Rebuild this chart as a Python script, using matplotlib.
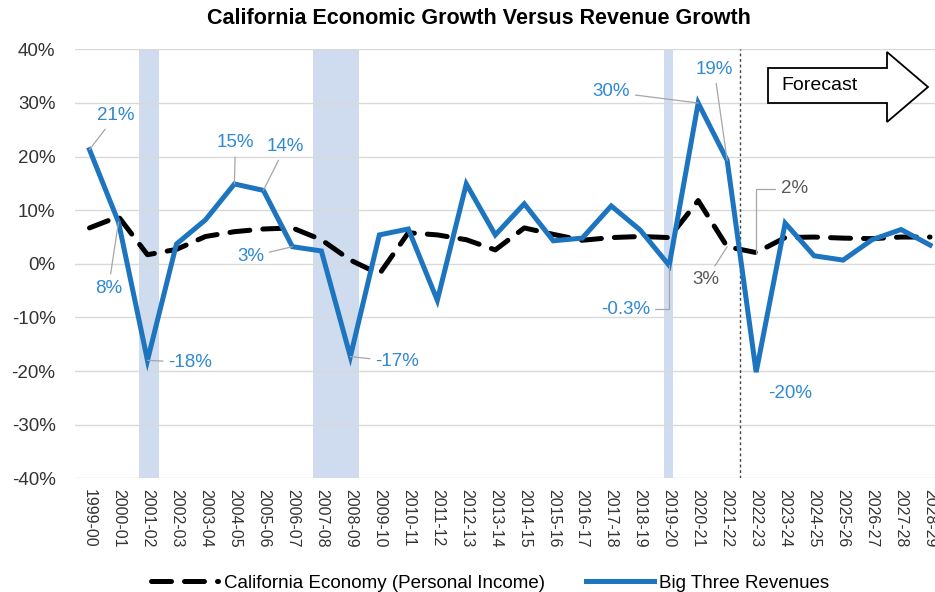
import matplotlib.pyplot as plt
import matplotlib.patches as mpatches
from matplotlib.lines import Line2D

plt.rcParams['font.family'] = ['Liberation Sans', 'DejaVu Sans']

# fiscal years
years = ["1999-00", "2000-01", "2001-02", "2002-03", "2003-04", "2004-05",
         "2005-06", "2006-07", "2007-08", "2008-09", "2009-10", "2010-11",
         "2011-12", "2012-13", "2013-14", "2014-15", "2015-16", "2016-17",
         "2017-18", "2018-19", "2019-20", "2020-21", "2021-22", "2022-23",
         "2023-24", "2024-25", "2025-26", "2026-27", "2027-28", "2028-29"]

# personal income growth (%)
income = [6.7, 8.8, 1.7, 2.7, 5.1, 6.0, 6.5, 6.7, 4.5, 0.7,
          -1.9, 5.8, 5.4, 4.5, 2.6, 6.7, 5.5, 4.4, 4.9, 5.1,
          4.9, 11.8, 3.2, 2.1, 4.9, 5.0, 4.8, 4.7, 5.0, 5.0]

# big three revenues growth (%)
revenue = [21.3, 7.8, -18.0, 3.7, 8.2, 14.9, 13.7, 3.2, 2.4, -17.3,
           5.4, 6.5, -6.8, 14.9, 5.4, 11.2, 4.3, 4.8, 10.8, 6.3,
           -0.3, 30.0, 19.3, -20.2, 7.6, 1.5, 0.7, 4.5, 6.4, 3.5]

# recession shading (category positions)
recessions = [(1.7, 2.4), (7.7, 9.3), (19.83, 20.14)]
forecast_start = 22.45

blue = '#1C75BE'
label_blue = '#2F89D3'
label_gray = '#595959'

fig = plt.figure(figsize=(9.35, 5.92), dpi=100)
ax = fig.add_axes([75 / 935, 0.192, 1 - 75 / 935, 0.9166 - 0.192])

for a, b in recessions:
    ax.axvspan(a, b, color='#CFDCEF', lw=0, zorder=0)

ax.axvline(forecast_start, color='#444444', lw=1, ls=(0, (2, 2)), zorder=1)

x = list(range(len(years)))
ax.plot(x, income, color='black', lw=3.6, dashes=(4, 2.6),
        dash_capstyle='round', zorder=3)
ax.plot(x, revenue, color=blue, lw=3.6, solid_joinstyle='miter', zorder=4)

ax.set_ylim(-40, 40)
ax.set_xlim(-0.5, 29.17)
ax.set_yticks(range(-40, 41, 10))
ax.set_yticklabels([f"{v}%" for v in range(-40, 41, 10)], fontsize=13.5,
                   color='#333333')
ax.set_xticks(x)
ax.set_xticklabels(years, rotation=-90, fontsize=11.5, color='#333333')
ax.tick_params(axis='y', length=0, pad=14)
ax.tick_params(axis='x', length=0, pad=8)
ax.grid(axis='y', color='#D9D9D9', lw=1)
ax.set_axisbelow(True)
for s in ax.spines.values():
    s.set_visible(False)

# callouts: (series, index, text, dx px, dy px, color, connection)
callouts = [
    (revenue, 0, "21%", 26, 34, label_blue, 'arc3'),
    (revenue, 1, "8%", -10, -66, label_blue, 'arc3'),
    (revenue, 2, "-18%", 43, -2, label_blue, 'arc3'),
    (revenue, 5, "15%", 1, 41, label_blue, 'arc3'),
    (revenue, 6, "14%", 22, 44, label_blue, 'arc3'),
    (revenue, 7, "3%", -42, -10, label_blue, 'arc3'),
    (revenue, 9, "-17%", 47, -5, label_blue, 'arc3'),
    (revenue, 20, "-0.3%", -44, -44, label_blue, 'angle,angleA=0,angleB=90,rad=0'),
    (revenue, 21, "30%", -87, 11, label_blue, 'arc3'),
    (revenue, 22, "19%", -13, 91, label_blue, 'arc3'),
    (income, 22, "3%", -21, -33, label_gray, 'arc3'),
    (income, 23, "2%", 38, 64, label_gray, 'angle,angleA=0,angleB=90,rad=0'),
    (revenue, 23, "-20%", 34, -21, label_blue, None),
]
for series, i, txt, dx, dy, col, conn in callouts:
    props = None
    if conn:
        props = dict(arrowstyle='-', color='#A6A6A6', lw=0.9,
                     shrinkA=2, shrinkB=0, connectionstyle=conn)
    ax.annotate(txt, xy=(i, series[i]), xytext=(dx, dy),
                textcoords='offset pixels', ha='center', va='center',
                fontsize=13.5, color=col, arrowprops=props, zorder=5)

# forecast arrow
W, H = 935, 592
pts = [(768, 68), (887, 68), (887, 52), (928, 87), (887, 122), (887, 103), (768, 103)]
arrow = mpatches.Polygon([(px / W, 1 - py / H) for px, py in pts], closed=True,
                         transform=fig.transFigure, fc='white', ec='black', lw=1.3,
                         zorder=6)
fig.patches.append(arrow)
fig.text(781 / W, 1 - 86 / H, "Forecast", fontsize=14, va='center', ha='left',
         zorder=7)

fig.text(0.512, 1 - 18 / H, "California Economic Growth Versus Revenue Growth",
         fontsize=15.5, fontweight='bold', ha='center', va='center')

handles = [Line2D([], [], color='black', lw=3.6, dashes=(4, 2.6), dash_capstyle='round'),
           Line2D([], [], color=blue, lw=3.6)]
fig.legend(handles, ["California Economy (Personal Income)", "Big Three Revenues"],
           loc='center', bbox_to_anchor=(0.524, 1 - 583 / H), ncol=2, frameon=False,
           handlelength=3.6, columnspacing=2.2, handletextpad=0.3, fontsize=13.5)

fig.savefig('out.png', dpi=100)
